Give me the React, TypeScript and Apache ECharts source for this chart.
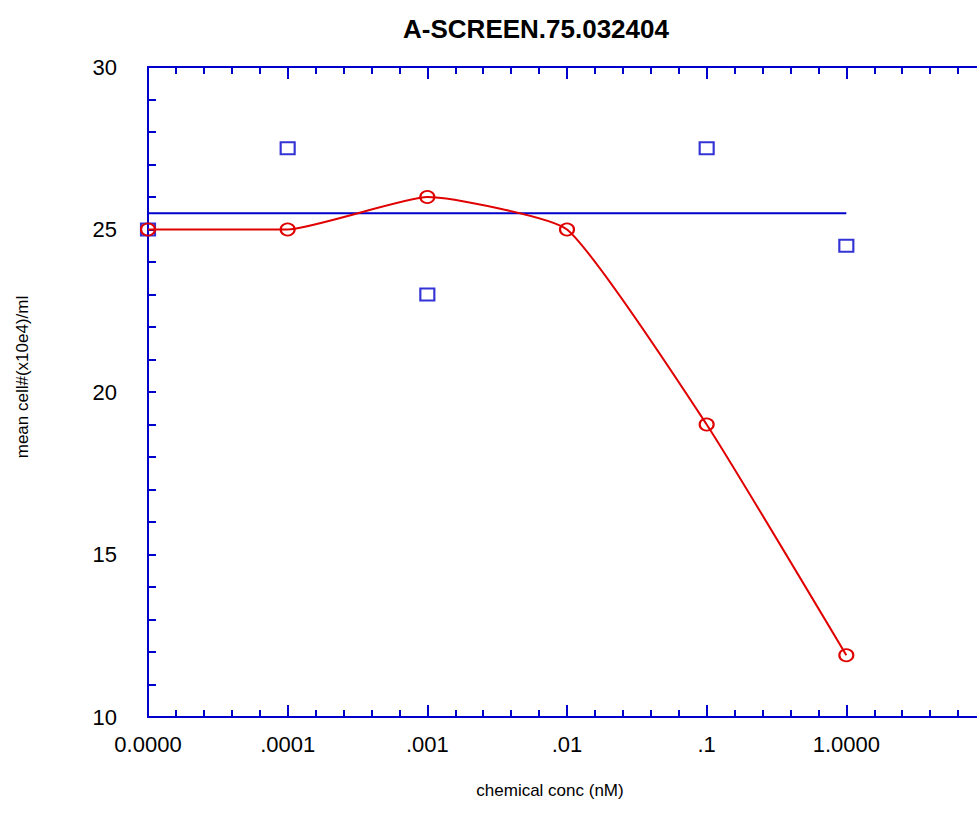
import React, { useEffect, useRef } from "react";
import * as echarts from "echarts";

// Concentration positions (one decade per unit) and their labels
const doseIndex = [0, 1, 2, 3, 4, 5];
const doseLabels = ["0.0000", ".0001", ".001", ".01", ".1", "1.0000"];

// Mean cell counts for the treated wells (red curve)
const treatedMean = [25, 25, 26, 25, 19, 11.9];

// Individual control readings (blue squares)
const controlX = [0, 1, 2, 4, 5];
const controlY = [25, 27.5, 23, 27.5, 24.5];

// Control average (horizontal reference line)
const controlMean = 25.5;

const BLUE = "#0000cc";
const RED = "#e00000";
const FONT = "'Liberation Sans', Arial, Helvetica, sans-serif";

export default function App() {
  const ref = useRef<HTMLDivElement>(null);

  useEffect(() => {
    if (!ref.current) return;
    const chart = echarts.init(ref.current, null, { renderer: "svg" });

    const baseX = {
      type: "value" as const,
      min: 0,
      max: 6,
      interval: 1,
      axisLine: { show: true, onZero: false, lineStyle: { color: BLUE, width: 2 } },
      splitLine: { show: false },
      axisTick: { show: true, inside: true, length: 12, lineStyle: { color: BLUE, width: 2 } },
      minorTick: { show: true, splitNumber: 5, length: 7, lineStyle: { color: BLUE, width: 2 } },
    };
    const baseY = {
      type: "value" as const,
      min: 10,
      max: 30,
      interval: 5,
      axisLine: { show: true, onZero: false, lineStyle: { color: BLUE, width: 2 } },
      splitLine: { show: false },
      axisTick: { show: true, inside: true, length: 8, lineStyle: { color: BLUE, width: 2 } },
      minorTick: { show: true, splitNumber: 5, length: 8, lineStyle: { color: BLUE, width: 2 } },
    };

    chart.setOption({
      animation: false,
      backgroundColor: "#ffffff",
      textStyle: { fontFamily: FONT },
      title: {
        text: "A-SCREEN.75.032404",
        left: 531,
        top: 11,
        textAlign: "center",
        textStyle: { fontFamily: FONT, fontSize: 26, fontWeight: "bold", color: "#000" },
      },
      grid: { left: 148, right: 14, top: 67, bottom: 109, containLabel: false },
      graphic: [
        {
          type: "text",
          x: 550,
          y: 790,
          style: {
            text: "chemical conc (nM)",
            fontFamily: FONT,
            fontSize: 17,
            fill: "#000",
            textAlign: "center",
            textVerticalAlign: "middle",
          },
        },
        {
          type: "text",
          x: 22,
          y: 377,
          rotation: Math.PI / 2,
          style: {
            text: "mean cell#(x10e4)/ml",
            fontFamily: FONT,
            fontSize: 17,
            fill: "#000",
            textAlign: "center",
            textVerticalAlign: "middle",
          },
        },
      ],
      xAxis: [
        {
          ...baseX,
          position: "bottom",
          axisLabel: {
            show: true,
            margin: 16,
            fontFamily: FONT,
            fontSize: 22,
            color: "#000",
            formatter: (v: number) => (v < doseLabels.length ? doseLabels[v] : ""),
          },
        },
        {
          ...baseX,
          position: "top",
          axisLabel: { show: false },
        },
      ],
      yAxis: [
        {
          ...baseY,
          position: "left",
          axisLabel: { show: true, margin: 31, fontFamily: FONT, fontSize: 22, color: "#000" },
        },
        {
          ...baseY,
          position: "right",
          minorTick: { show: false },
          axisLabel: { show: false },
        },
      ],
      series: [
        {
          type: "line",
          data: [
            [doseIndex[0], controlMean],
            [doseIndex[5], controlMean],
          ],
          showSymbol: false,
          symbol: "none",
          lineStyle: { color: BLUE, width: 2 },
          z: 2,
        },
        {
          type: "scatter",
          data: controlX.map((x, i) => [x, controlY[i]]),
          symbol: "rect",
          symbolSize: [14, 12],
          itemStyle: { color: "rgba(0,0,0,0)", borderColor: BLUE, borderWidth: 2 },
          z: 3,
        },
        {
          type: "line",
          data: doseIndex.map((x, i) => [x, treatedMean[i]]),
          smooth: 0.15,
          symbol: "circle",
          symbolSize: [14, 12],
          showAllSymbol: true,
          itemStyle: { color: "rgba(0,0,0,0)", borderColor: RED, borderWidth: 2 },
          lineStyle: { color: RED, width: 2 },
          z: 4,
        },
      ],
    });

    return () => chart.dispose();
  }, []);

  return (
    <div
      ref={ref}
      style={{ position: "fixed", left: 0, top: 0, width: 1000, height: 826, background: "#fff" }}
    />
  );
}
